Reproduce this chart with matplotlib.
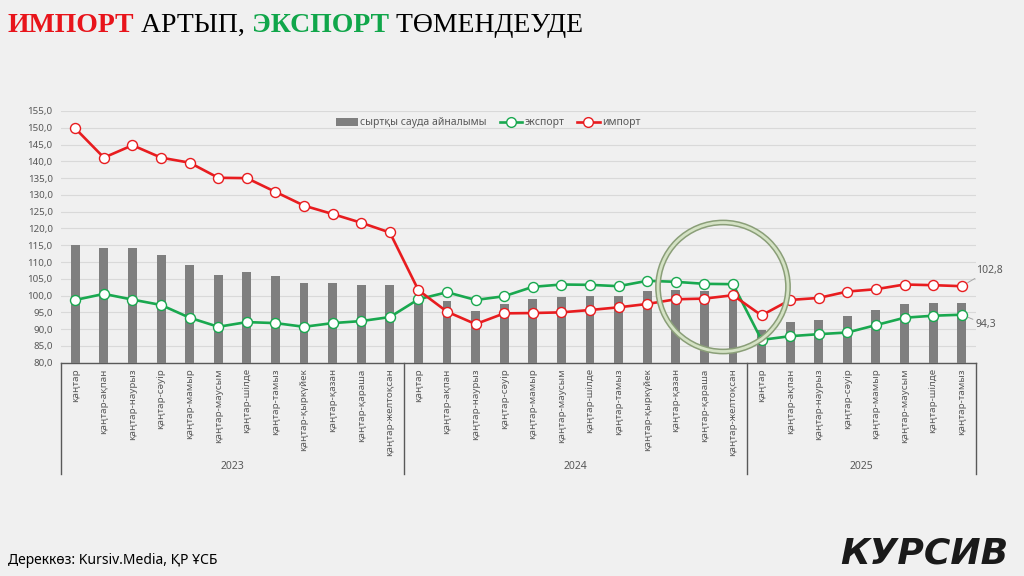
import matplotlib
matplotlib.use('Agg')
import matplotlib.pyplot as plt
import matplotlib.transforms as mtransforms
from matplotlib.patches import Ellipse, Patch
from matplotlib.lines import Line2D
import numpy as np

plt.rcParams['font.family'] = ['Noto Sans', 'DejaVu Sans']

# ---------------- data ----------------
months = ["қаңтар", "қаңтар-ақпан", "қаңтар-наурыз", "қаңтар-сәуір",
          "қаңтар-мамыр", "қаңтар-маусым", "қаңтар-шілде", "қаңтар-тамыз",
          "қаңтар-қыркүйек", "қаңтар-қазан", "қаңтар-қараша", "қаңтар-желтоқсан"]
years = ["2023", "2024", "2025"]
year_counts = [12, 12, 8]
categories = months + months + months[:8]

turnover = [115.0, 114.3, 114.3, 112.1, 109.2, 106.0, 107.1, 105.7, 103.8, 103.6, 103.2, 103.1,
            99.3, 98.5, 95.5, 97.5, 99.0, 99.6, 99.8, 100.0, 101.3, 101.7, 101.4, 100.3,
            89.8, 92.2, 92.7, 93.9, 95.6, 97.4, 97.8, 97.8]
export = [98.7, 100.5, 98.8, 97.2, 93.4, 90.7, 92.1, 91.8, 90.7, 91.8, 92.4, 93.6,
          98.9, 101.0, 98.7, 99.8, 102.6, 103.3, 103.2, 102.8, 104.4, 104.1, 103.5, 103.4,
          86.8, 87.9, 88.5, 89.0, 91.2, 93.4, 94.0, 94.3]
imports = [149.8, 141.1, 144.8, 141.1, 139.6, 135.1, 135.0, 130.9, 126.8, 124.3, 121.7, 118.8,
           101.6, 95.2, 91.5, 94.7, 94.8, 95.0, 95.7, 96.5, 97.5, 98.9, 99.1, 100.1,
           94.1, 98.7, 99.3, 101.2, 101.9, 103.3, 103.1, 102.8]
series_names = ["сыртқы сауда айналымы", "экспорт", "импорт"]
last_labels = ["102,8", "94,3"]

# ---------------- style ----------------
BG = '#f0f0f0'
RED = '#e81c1f'
GREEN = '#19a84f'
GRAY_BAR = '#7f7f7f'
TXT = '#595959'

fig = plt.figure(figsize=(10.24, 5.76), dpi=100, facecolor=BG)
ax = fig.add_axes([61/1024, 1-362.7/576, 915/1024, 251.7/576])
ax.set_facecolor(BG)

x = np.arange(len(categories))
ax.bar(x, turnover, width=0.31, color=GRAY_BAR, zorder=2)
ax.plot(x, export, color=GREEN, lw=1.9, marker='o', ms=7.2, mfc='white', mec=GREEN, mew=1.0, zorder=3)
ax.plot(x, imports, color=RED, lw=1.9, marker='o', ms=7.2, mfc='white', mec=RED, mew=1.0, zorder=4)

ax.set_xlim(-0.5, len(categories) - 0.5)
ax.set_ylim(80, 155)
yt = np.arange(80, 156, 5)
ax.set_yticks(yt)
ax.set_yticklabels([f"{v:.1f}".replace('.', ',') for v in yt], fontsize=7, color=TXT)
ax.yaxis.grid(True, color='#d9d9d9', lw=0.8, zorder=0)
ax.set_axisbelow(True)
ax.set_xticks(x)
ax.set_xticklabels(categories, rotation=90, fontsize=7, color=TXT, va='top', ha='center')
ax.tick_params(axis='both', length=0)
ax.tick_params(axis='x', pad=4)
ax.tick_params(axis='y', pad=6)
for s in ['top', 'right', 'left']:
    ax.spines[s].set_visible(False)
ax.spines['bottom'].set_color(TXT)
ax.spines['bottom'].set_linewidth(1.0)
ax.spines['bottom'].set_zorder(1)

# group separators and year labels
trans = mtransforms.blended_transform_factory(ax.transData, ax.transAxes)
bounds = np.concatenate([[0], np.cumsum(year_counts)]) - 0.5
for b in bounds:
    ax.plot([b, b], [0, -0.442], transform=trans, clip_on=False, color=TXT, lw=1.0)
for i, yname in enumerate(years):
    ax.text((bounds[i] + bounds[i+1]) / 2, -0.414, yname, transform=trans,
            ha='center', va='center', fontsize=7.5, color=TXT)

# last-point labels
ax.annotate(last_labels[0], xy=(x[-1], imports[-1]), xytext=(14, 16), textcoords='offset pixels',
            ha='left', va='center', fontsize=7.5, color=TXT,
            arrowprops=dict(arrowstyle='-', color='#a6a6a6', lw=0.7, shrinkA=0, shrinkB=5))
ax.annotate(last_labels[1], xy=(x[-1], export[-1]), xytext=(14, -10), textcoords='offset pixels',
            ha='left', va='center', fontsize=7.5, color=TXT,
            arrowprops=dict(arrowstyle='-', color='#a6a6a6', lw=0.7, shrinkA=0, shrinkB=5))

# legend
handles = [Patch(facecolor=GRAY_BAR, edgecolor='none'),
           Line2D([], [], color=GREEN, lw=1.9, marker='o', ms=7, mfc='white', mec=GREEN),
           Line2D([], [], color=RED, lw=1.9, marker='o', ms=7, mfc='white', mec=RED)]
fig.legend(handles, series_names, loc='center', bbox_to_anchor=(488/1024, 1-123/576), ncol=3,
           frameon=False, fontsize=7.5, labelcolor=TXT, handlelength=2.2, handletextpad=0.2,
           columnspacing=1.2, handleheight=0.9)

# decorative ring
for lw, col in [(4.2, '#8a9e78'), (2.0, '#d4e2c4')]:
    fig.add_artist(Ellipse((723/1024, 1-287/576), 130/1024, 129/576, transform=fig.transFigure,
                           fill=False, edgecolor=col, lw=lw, zorder=10))

# title
tfont = dict(family=['Liberation Serif', 'DejaVu Serif'], fontsize=20)
t = fig.text(8/1024, 1-38/576, "ИМПОРТ", color='#e8141b', fontweight='bold', va='bottom', **tfont)
pieces = [(" АРТЫП, ", 'black', 'normal'), ("ЭКСПОРТ", '#10a64a', 'bold'), (" ТӨМЕНДЕУДЕ", 'black', 'normal')]
for txt, col, fw in pieces:
    t = fig.add_artist(matplotlib.text.Annotation(txt, xy=(1, 0), xycoords=t, va='bottom', ha='left',
                                                  color=col, fontweight=fw, **tfont))

# footer
fig.text(8/1024, 1-560/576, "Дереккөз: Kursiv.Media, ҚР ҰСБ", fontsize=10, color='black', va='center')
fig.text(1008/1024, 1-554/576, "КУРСИВ", ha='right', va='center', fontsize=26, fontweight='black',
         style='italic', family='DejaVu Sans', color='#1a1a1a')

fig.savefig('out.png', dpi=100, facecolor=BG)
